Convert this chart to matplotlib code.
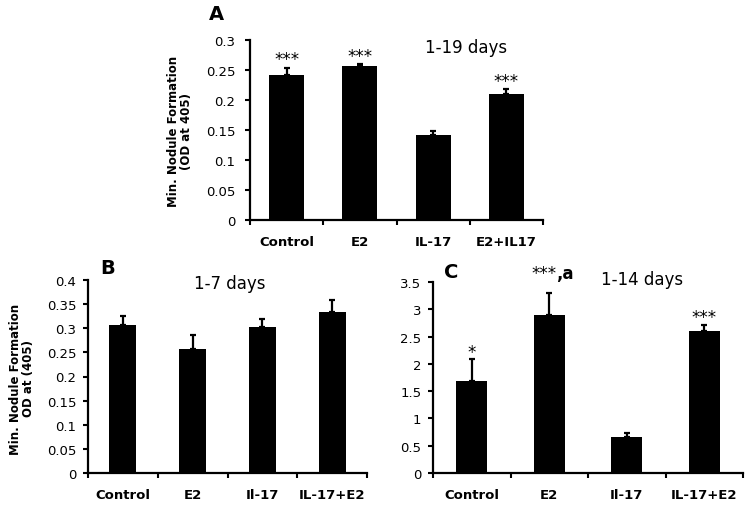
import matplotlib
matplotlib.use("Agg")
import matplotlib.pyplot as plt
from matplotlib.ticker import FuncFormatter, FixedLocator

plt.rcParams['font.family'] = ['DejaVu Sans']

# ---------------- data ----------------
cats_a = ["Control", "E2", "IL-17", "E2+IL17"]
vals_a = [0.242, 0.257, 0.141, 0.210]
errs_a = [0.012, 0.003, 0.007, 0.008]
stars_a = ["***", "***", "", "***"]

cats_b = ["Control", "E2", "Il-17", "IL-17+E2"]
vals_b = [0.306, 0.256, 0.302, 0.333]
errs_b = [0.020, 0.029, 0.017, 0.025]

cats_c = ["Control", "E2", "Il-17", "IL-17+E2"]
vals_c = [1.68, 2.89, 0.66, 2.61]
errs_c = [0.41, 0.41, 0.07, 0.11]
stars_c = ["*", "***", "", "***"]

yticks_a = [0, 0.05, 0.1, 0.15, 0.2, 0.25, 0.3]
yticks_b = [0, 0.05, 0.1, 0.15, 0.2, 0.25, 0.3, 0.35, 0.4]
yticks_c = [0, 0.5, 1, 1.5, 2, 2.5, 3, 3.5]

W, H = 750, 506
fig = plt.figure(figsize=(W / 100, H / 100), dpi=100)
fig.patch.set_facecolor("white")


def px_axes(x0, x1, ytop, ybot):
    return fig.add_axes([x0 / W, 1 - ybot / H, (x1 - x0) / W, (ybot - ytop) / H])


def style(ax, cats, vals, errs, yticks, width, ypad):
    x = list(range(len(cats)))
    ax.bar(x, vals, width=width, color="black", zorder=2)
    ax.errorbar(x, vals, yerr=[[0] * len(errs), errs], fmt="none",
                ecolor="black", elinewidth=1.6, capsize=2.5, capthick=1.6, zorder=3)
    ax.set_xlim(-0.5, len(cats) - 0.5)
    ax.set_ylim(yticks[0], yticks[-1])
    ax.set_yticks(yticks)
    ax.yaxis.set_major_formatter(FuncFormatter(lambda v, p: "{:g}".format(v)))
    ax.set_xticks(x)
    ax.set_xticklabels(cats, fontweight="bold", fontsize=9.5)
    ax.xaxis.set_minor_locator(FixedLocator([i - 0.5 for i in range(len(cats) + 1)]))
    ax.tick_params(axis="x", which="major", length=0, pad=11)
    ax.tick_params(axis="x", which="minor", length=3.5, width=1.5, direction="out")
    ax.tick_params(axis="y", which="major", length=3.5, width=1.5, direction="out",
                   labelsize=9.5, pad=ypad)
    for s in ["top", "right"]:
        ax.spines[s].set_visible(False)
    for s in ["left", "bottom"]:
        ax.spines[s].set_linewidth(1.6)
    ax.set_facecolor("white")


# ---------------- Panel A ----------------
axA = px_axes(250, 543, 41, 221)
style(axA, cats_a, vals_a, errs_a, yticks_a, 0.48, 7)
for i, s in enumerate(stars_a):
    if s:
        axA.annotate(s, (i, vals_a[i] + errs_a[i]), xytext=(0, 2.5),
                     textcoords="offset points", ha="center", va="baseline", fontsize=12)
axA.text(2.45, 0.289, "1-19 days", ha="center", va="center", fontsize=12)
fig.text(216 / W, 1 - 15 / H, "A", ha="center", va="center", fontsize=14, fontweight="bold")
fig.text(180 / W, 1 - 131 / H, "Min. Nodule Formation\n(OD at 405)", rotation=90,
         ha="center", va="center", fontsize=8.5, fontweight="bold", linespacing=0.95)

# ---------------- Panel B ----------------
axB = px_axes(88, 367, 281, 474)
style(axB, cats_b, vals_b, errs_b, yticks_b, 0.39, 5)
axB.text(1.53, 0.393, "1-7 days", ha="center", va="center", fontsize=12)
fig.text(108 / W, 1 - 268 / H, "B", ha="center", va="center", fontsize=14, fontweight="bold")
fig.text(22 / W, 1 - 379 / H, "Min. Nodule Formation\nOD at (405)", rotation=90,
         ha="center", va="center", fontsize=8.5, fontweight="bold", linespacing=0.95)

# ---------------- Panel C ----------------
axC = px_axes(433, 743, 283, 474)
style(axC, cats_c, vals_c, errs_c, yticks_c, 0.40, 5)
for i, s in enumerate(stars_c):
    if not s:
        continue
    if i == 1:
        axC.annotate(s, (i, vals_c[i] + errs_c[i]), xytext=(5, 11),
                     textcoords="offset points", ha="right", va="baseline", fontsize=12)
        axC.annotate(",a", (i, vals_c[i] + errs_c[i]), xytext=(5, 11),
                     textcoords="offset points", ha="left", va="baseline", fontsize=12,
                     fontweight="bold")
    else:
        axC.annotate(s, (i, vals_c[i] + errs_c[i]), xytext=(0, 1.5),
                     textcoords="offset points", ha="center", va="baseline", fontsize=12)
axC.text(2.2, 3.55, "1-14 days", ha="center", va="center", fontsize=12)
fig.text(451 / W, 1 - 272 / H, "C", ha="center", va="center", fontsize=14, fontweight="bold")

fig.savefig("out.png", dpi=100, facecolor="white")
